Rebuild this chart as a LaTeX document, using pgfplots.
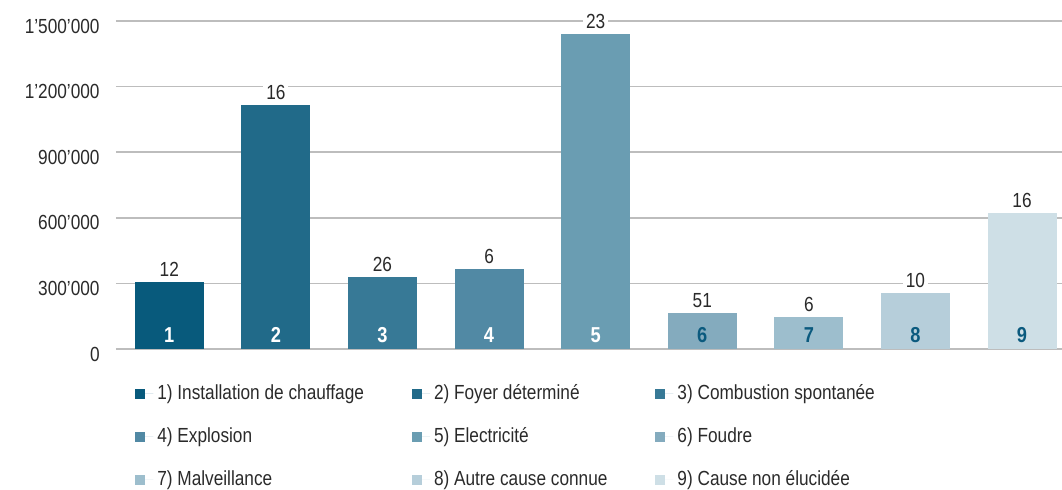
\documentclass[border=0pt]{standalone}
\usepackage{fontspec}
\setmainfont{Liberation Sans}[FakeStretch=0.845]
\usepackage{pgfplots}
\pgfplotsset{compat=1.18}

\definecolor{c1}{HTML}{085A7C}
\definecolor{c2}{HTML}{216A89}
\definecolor{c3}{HTML}{377996}
\definecolor{c4}{HTML}{5189A4}
\definecolor{c5}{HTML}{6A9DB2}
\definecolor{c6}{HTML}{84ABBE}
\definecolor{c7}{HTML}{9DBECD}
\definecolor{c8}{HTML}{B6CEDA}
\definecolor{c9}{HTML}{CEDFE6}
\definecolor{numdark}{HTML}{0B5A7E}
\definecolor{textgray}{HTML}{2A2A2A}
\definecolor{gridgray}{HTML}{BDBDBD}

\pgfplotsset{
  mybar/.style={ybar, bar width=34.5pt, bar shift=0pt, draw=none, fill=#1,
    nodes near coords=\pgfplotspointmeta, point meta=explicit symbolic,
    every node near coord/.append style={fill=white, inner sep=1.5pt, yshift=1pt,
      text=textgray, font=\fontsize{10.2}{11}\selectfont}},
  barnum/.style={draw=none, mark=none, forget plot,
    nodes near coords=\pgfplotspointmeta, point meta=explicit symbolic,
    nodes near coords align={center},
    every node near coord/.append style={anchor=center, yshift=7pt, text=#1,
      font=\fontsize{10.8}{11}\selectfont\bfseries}},
}

\begin{document}
\begin{tikzpicture}
\begin{axis}[
  name=ax,
  width=473pt, height=164pt, scale only axis,
  xmin=0.5, xmax=9.375,
  ymin=0, ymax=1500000,
  axis line style={draw=none},
  xtick=\empty,
  scaled y ticks=false,
  ytick={0,300000,600000,900000,1200000,1500000},
  yticklabels={0,300’000,600’000,900’000,1’200’000,1’500’000},
  major tick length=0pt,
  ymajorgrids,
  grid style={line width=0.8pt, color=gridgray},
  yticklabel style={inner sep=0pt, xshift=-8pt, yshift=-2.5pt, text=textgray,
    font=\fontsize{10.2}{11}\selectfont},
  clip=false,
  legend columns=3,
  legend cell align=left,
  legend style={draw=none, fill=none, at={(0.02,-0.095)}, anchor=north west,
    inner sep=0pt, row sep=8.5pt, text=textgray,
    font=\fontsize{10.2}{11}\selectfont,
    /tikz/every even column/.append style={column sep=22pt}},
  legend image code/.code={\fill[#1,draw=none] (0pt,-2.5pt) rectangle (5pt,2.5pt);
    \path (0pt,0pt) -- (9pt,0pt);},
]
\addplot[mybar=c1] coordinates {(1,306000) [12]};
\addlegendentry{1) Installation de chauffage}
\addplot[mybar=c2] coordinates {(2,1116000) [16]};
\addlegendentry{2) Foyer déterminé}
\addplot[mybar=c3] coordinates {(3,329000) [26]};
\addlegendentry{3) Combustion spontanée}
\addplot[mybar=c4] coordinates {(4,366000) [6]};
\addlegendentry{4) Explosion}
\addplot[mybar=c5] coordinates {(5,1440000) [23]};
\addlegendentry{5) Electricité}
\addplot[mybar=c6] coordinates {(6,165000) [51]};
\addlegendentry{6) Foudre}
\addplot[mybar=c7] coordinates {(7,146000) [6]};
\addlegendentry{7) Malveillance}
\addplot[mybar=c8] coordinates {(8,256000) [10]};
\addlegendentry{8) Autre cause connue}
\addplot[mybar=c9] coordinates {(9,622000) [16]};
\addlegendentry{9) Cause non élucidée}

\addplot[barnum=white] coordinates {(1,0) [1] (2,0) [2] (3,0) [3] (4,0) [4] (5,0) [5]};
\addplot[barnum=numdark] coordinates {(6,0) [6] (7,0) [7] (8,0) [8] (9,0) [9]};
\end{axis}
\pgfresetboundingbox
\path[use as bounding box] ([xshift=-58pt,yshift=-70.5pt]ax.south west) rectangle ([yshift=10.5pt]ax.north east);
\end{tikzpicture}
\end{document}
